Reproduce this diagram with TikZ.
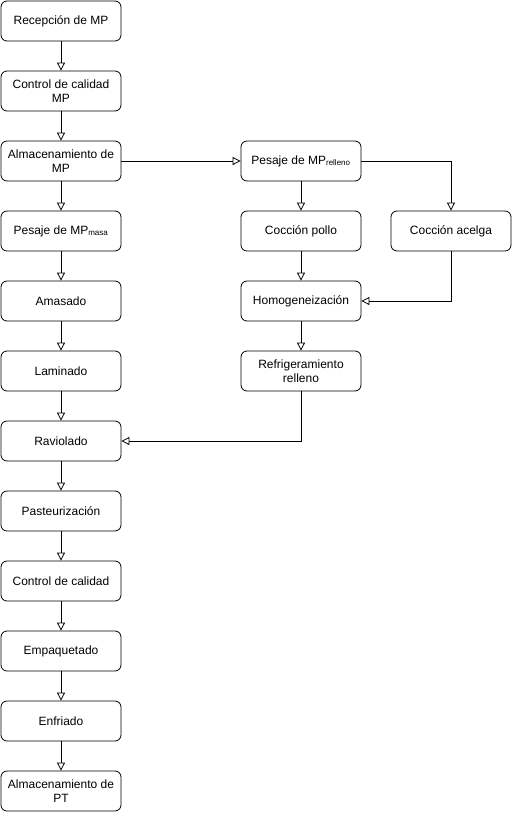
\documentclass[tikz,border=0pt]{standalone}
\usepackage{fontspec}
\setmainfont{Liberation Sans}
\usepackage{tikz}
\usetikzlibrary{arrows.meta}

\begin{document}
\begin{tikzpicture}[x=1pt,y=-1pt]
    \tikzstyle{step box}=[draw, thick, rounded corners=6pt, fill=white, minimum width=120pt, minimum height=40pt, align=center, inner sep=2pt, font=\fontsize{12}{14}\selectfont]
    \tikzstyle{flow}=[thick, -{Triangle[open,length=8pt,width=8pt]}]
    \tikzstyle{every path}=[line width=0.8pt]

    \useasboundingbox (0,0) rectangle (523,823);

    % main line
    \node[step box] (recmp) at (61,21) {Recepción de MP};
    \node[step box] (ctlmp) at (61,91) {Control de calidad\\MP};
    \node[step box] (almmp) at (61,161) {Almacenamiento de\\MP};
    \node[step box] (pesma) at (61,231) {Pesaje de MP\textsubscript{masa}};
    \node[step box] (amas) at (61,301) {Amasado};
    \node[step box] (lami) at (61,371) {Laminado};
    \node[step box] (ravi) at (61,441) {Raviolado};
    \node[step box] (past) at (61,511) {Pasteurización};
    \node[step box] (ctlpt) at (61,581) {Control de calidad};
    \node[step box] (empa) at (61,651) {Empaquetado};
    \node[step box] (enfr) at (61,721) {Enfriado};
    \node[step box] (almpt) at (61,791) {Almacenamiento de\\PT};

    % filling line
    \node[step box] (pesre) at (301,161) {Pesaje de MP\textsubscript{relleno}};
    \node[step box] (cpol) at (301,231) {Cocción pollo};
    \node[step box] (homo) at (301,301) {Homogeneización};
    \node[step box] (refr) at (301,371) {Refrigeramiento\\relleno};
    \node[step box] (cace) at (451,231) {Cocción acelga};

    % main line arrows
    \draw[flow] (recmp) -- (ctlmp);
    \draw[flow] (ctlmp) -- (almmp);
    \draw[flow] (almmp) -- (pesma);
    \draw[flow] (pesma) -- (amas);
    \draw[flow] (amas) -- (lami);
    \draw[flow] (lami) -- (ravi);
    \draw[flow] (ravi) -- (past);
    \draw[flow] (past) -- (ctlpt);
    \draw[flow] (ctlpt) -- (empa);
    \draw[flow] (empa) -- (enfr);
    \draw[flow] (enfr) -- (almpt);

    % filling line arrows
    \draw[flow] (almmp) -- (pesre);
    \draw[flow] (pesre) -- (cpol);
    \draw[flow] (pesre.east) -| (cace.north);
    \draw[flow] (cpol) -- (homo);
    \draw[flow] (cace.south) |- (homo.east);
    \draw[flow] (homo) -- (refr);
    \draw[flow] (refr.south) |- (ravi.east);

\end{tikzpicture}
\end{document}
